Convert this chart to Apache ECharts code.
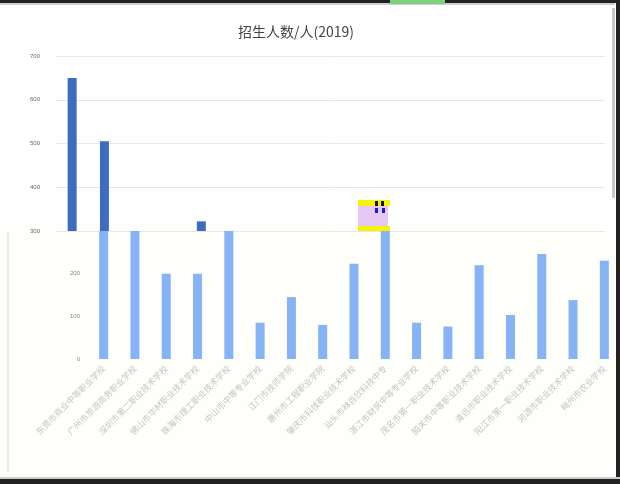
<!DOCTYPE html>
<html>
<head>
<meta charset="utf-8">
<script src="https://cdn.jsdelivr.net/npm/echarts@6/dist/echarts.min.js"></script>
<style>
html,body{margin:0;padding:0;background:#fff;}
#c{width:620px;height:484px;}
</style>
</head>
<body>
<div id="c"></div>
<script>
// ---- data ----
var titleText = "招生人数/人(2019)";
// upper (dark) panel: values above 300
var upperCategories = ["A1","A2","A3","A4","A5","A6","A7","A8","A9","A10","A11","A12","A13","A14","A15","A16","A17"];
var upperValues = [650, 505, null, null, 322, null, null, null, null, null, null, null, null, null, null, null, null];
var upperTicks = [300, 400, 500, 600, 700];
// lower (light) panel: school names and values up to 300
var lowerCategories = [
  "东莞市商业中等职业学校","广州市旅游商务职业学校","深圳市第二职业技术学校","佛山市华材职业技术学校",
  "珠海市理工职业技术学校","中山市中等专业学校","江门市技师学院","惠州市工程职业学院",
  "肇庆市科技职业技术学校","汕头市林百欣科技中专","湛江市财贸中等专业学校","茂名市第一职业技术学校",
  "韶关市中等职业技术学校","清远市职业技术学校","阳江市第一职业技术学校","河源市职业技术学校","梅州市农业学校"
];
var lowerValues = [300, 300, 200, 200, 300, 85, 145, 80, 223, 300, 85, 76, 220, 103, 246, 138, 230];
var lowerTicks = [0, 100, 200, 300];

var chart = echarts.init(document.getElementById('c'), null, {renderer:'canvas'});
var option = {
  backgroundColor: '#ffffff',
  animation: false,
  title: {
    text: titleText, left: 233, top: 20,
    textStyle: {fontSize: 14, fontWeight: 'normal', color: '#444', fontFamily: 'Noto Sans CJK SC'}
  },
  grid: [
    {left: 56, top: 56, width: 549, height: 175},
    {left: 88, top: 231, width: 547, height: 128}
  ],
  xAxis: [
    {type: 'category', gridIndex: 0, data: upperCategories,
     axisLine: {show: false}, axisTick: {show: false}, axisLabel: {show: false}},
    {type: 'category', gridIndex: 1, data: lowerCategories,
     axisLine: {show: false}, axisTick: {show: false},
     axisLabel: {interval: 0, rotate: 45, fontSize: 8.5, color: '#c4c4c4', margin: 8,
                 fontFamily: 'Noto Sans CJK SC'}}
  ],
  yAxis: [
    {type: 'value', gridIndex: 0, min: upperTicks[0], max: upperTicks[upperTicks.length-1], interval: 100,
     axisLine: {show: false}, axisTick: {show: false},
     axisLabel: {fontSize: 6, color: '#666', margin: 16},
     splitLine: {lineStyle: {color: '#e8e8e8', width: 1}}},
    {type: 'value', gridIndex: 1, min: lowerTicks[0], max: lowerTicks[lowerTicks.length-1], interval: 100,
     axisLine: {show: false}, axisTick: {show: false},
     axisLabel: {fontSize: 6, color: '#888', margin: 8, showMaxLabel: false},
     splitLine: {show: false}}
  ],
  series: [
    {type: 'bar', xAxisIndex: 0, yAxisIndex: 0, data: upperValues, barWidth: 9,
     itemStyle: {color: '#3e6cbf'}, clip: true},
    {type: 'bar', xAxisIndex: 1, yAxisIndex: 1, data: lowerValues, barWidth: 9,
     itemStyle: {color: '#86b3f5'}, clip: true}
  ],
  graphic: [
    {type: 'rect', shape: {x: 0, y: 232, width: 620, height: 246}, style: {fill: '#fefefa'}, z: -10},
    {type: 'line', shape: {x1: 8, y1: 232, x2: 8, y2: 472}, style: {stroke: '#dadada', lineWidth: 1}},
    {type: 'rect', shape: {x: 0, y: 0, width: 620, height: 3}, style: {fill: '#222'}},
    {type: 'rect', shape: {x: 0, y: 3, width: 615, height: 2}, style: {fill: '#cfcfcf'}},
    {type: 'rect', shape: {x: 390, y: 0, width: 55, height: 4}, style: {fill: '#7fcf7f'}},
    {type: 'rect', shape: {x: 616, y: 0, width: 4, height: 484}, style: {fill: '#222'}},
    {type: 'rect', shape: {x: 612, y: 8, width: 3, height: 190}, style: {fill: '#c8c8c8'}},
    {type: 'rect', shape: {x: 0, y: 477, width: 620, height: 2}, style: {fill: '#cfcfcf'}},
    {type: 'rect', shape: {x: 0, y: 479, width: 620, height: 5}, style: {fill: '#222'}},
    {type: 'rect', shape: {x: 358, y: 200, width: 32, height: 6}, style: {fill: '#f5f500'}},
    {type: 'rect', shape: {x: 358, y: 206, width: 30, height: 20}, style: {fill: '#e6c8f5'}},
    {type: 'rect', shape: {x: 358, y: 226, width: 32, height: 5}, style: {fill: '#f5f500'}},
    {type: 'rect', shape: {x: 375, y: 201, width: 3, height: 5}, style: {fill: '#111'}},
    {type: 'rect', shape: {x: 381, y: 201, width: 3, height: 5}, style: {fill: '#111'}},
    {type: 'rect', shape: {x: 375, y: 208, width: 3, height: 5}, style: {fill: '#1a1ad0'}},
    {type: 'rect', shape: {x: 382, y: 208, width: 3, height: 5}, style: {fill: '#1a1ad0'}}
  ]
};
chart.setOption(option);
</script>
</body>
</html>
